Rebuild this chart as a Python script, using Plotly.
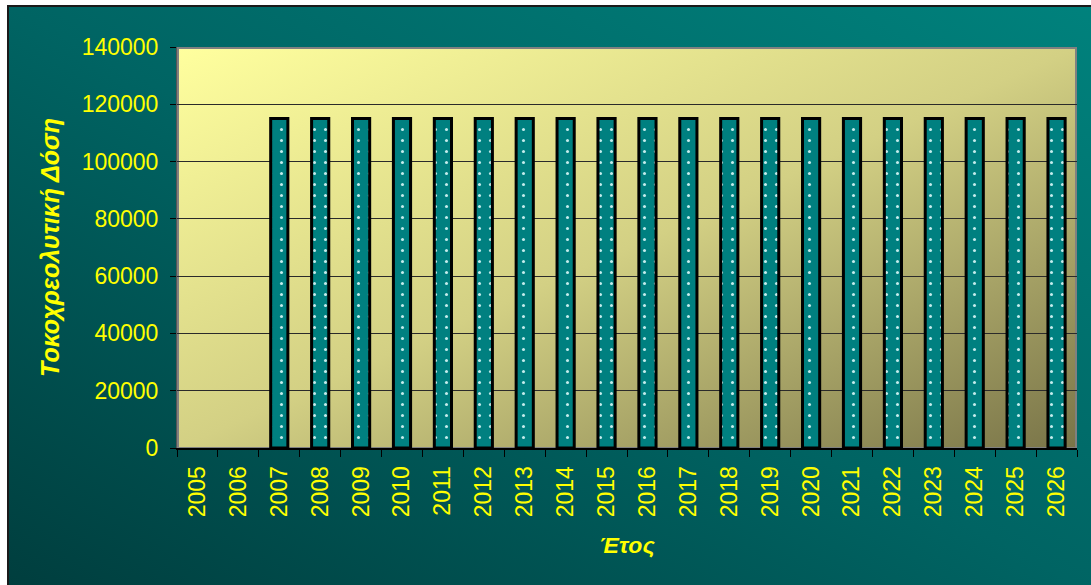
import base64
import plotly.graph_objects as go

years = [str(y) for y in range(2005, 2027)]
values = [None, None] + [115000] * 20
y_ticks = [0, 20000, 40000, 60000, 80000, 100000, 120000, 140000]

W, H = 1091, 585
L, R, T, B = 177, 14, 47, 137
PW, PH = W - L - R, H - T - B


def svg_uri(svg):
    return "data:image/svg+xml;base64," + base64.b64encode(svg.encode()).decode()


outer_svg = f'''<svg xmlns="http://www.w3.org/2000/svg" width="{W}" height="{H}" viewBox="0 0 {W} {H}" preserveAspectRatio="none">
<defs><linearGradient id="g" x1="0" y1="1" x2="1" y2="0">
<stop offset="0" stop-color="#003d3d"/><stop offset="0.5" stop-color="#006463"/><stop offset="1" stop-color="#00827d"/></linearGradient></defs>
<rect x="0" y="0" width="{W}" height="{H}" fill="#ffffff"/>
<rect x="8" y="6" width="{W + 10}" height="{H + 10}" fill="url(#g)" stroke="#1a1a1a" stroke-width="2"/>
</svg>'''

plot_svg = f'''<svg xmlns="http://www.w3.org/2000/svg" width="{PW}" height="{PH}" viewBox="0 0 {PW} {PH}" preserveAspectRatio="none">
<defs><linearGradient id="p" x1="0" y1="0" x2="1" y2="1">
<stop offset="0" stop-color="#ffff9e"/><stop offset="0.5" stop-color="#d3d084"/><stop offset="1" stop-color="#797448"/></linearGradient></defs>
<rect x="1" y="1" width="{PW - 2}" height="{PH - 1}" fill="url(#p)" stroke="#808080" stroke-width="2"/>
</svg>'''

fig = go.Figure()
fig.add_trace(go.Bar(
    x=years, y=values, width=0.42,
    marker=dict(
        color="#008080",
        line=dict(color="#000000", width=3),
        pattern=dict(shape=".", fgcolor="#c4ecec", bgcolor="#008080", size=11, solidity=0.06, fillmode="replace"),
    ),
    showlegend=False,
))

fig.update_layout(
    width=W, height=H,
    margin=dict(l=L, r=R, t=T, b=B, pad=0),
    paper_bgcolor="#ffffff",
    plot_bgcolor="rgba(0,0,0,0)",
    font=dict(family="Liberation Sans, Arial, sans-serif", color="#ffff00", size=23),
    images=[
        dict(source=svg_uri(outer_svg), xref="paper", yref="paper",
             x=-L / PW, y=1 + T / PH, sizex=W / PW, sizey=H / PH,
             xanchor="left", yanchor="top", sizing="stretch", layer="below"),
        dict(source=svg_uri(plot_svg), xref="paper", yref="paper",
             x=0, y=1, sizex=1, sizey=1,
             xanchor="left", yanchor="top", sizing="stretch", layer="below"),
    ],
)

fig.update_xaxes(
    type="category", tickangle=-90, tickson="boundaries",
    ticks="outside", ticklen=7, tickcolor="#000000", tickwidth=1,
    ticklabelstandoff=7,
    showline=True, linecolor="#000000", linewidth=2,
    showgrid=False,
    tickfont=dict(size=23, color="#ffff00"),
    title=dict(text="<b><i>Έτος</i></b>", font=dict(size=23, color="#ffff00"), standoff=21),
)
fig.update_yaxes(
    range=[0, 140000], tickvals=y_ticks, tickformat="d",
    ticks="outside", ticklen=6, tickcolor="#000000", tickwidth=1,
    ticklabelstandoff=7,
    showline=True, linecolor="#555555", linewidth=1,
    showgrid=True, gridcolor="#2a2a2a", gridwidth=1, zeroline=False,
    tickfont=dict(size=23, color="#ffff00"),
    title=dict(text="<b><i>Τοκοχρεολυτική Δόση</i></b>", font=dict(size=25, color="#ffff00"), standoff=14),
)

fig.write_html("out.html")
